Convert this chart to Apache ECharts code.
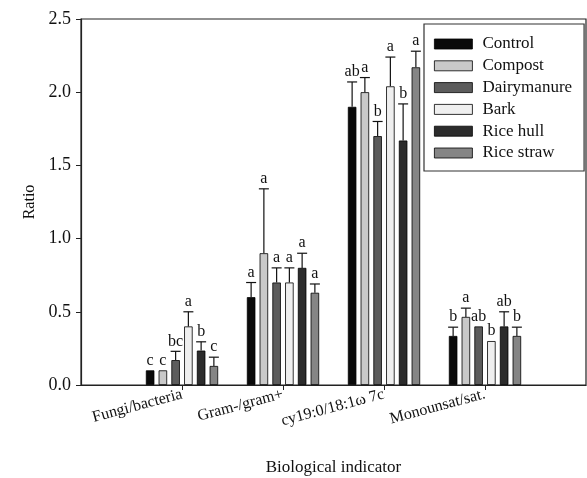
<!DOCTYPE html>
<html>
<head>
<meta charset="utf-8">
<script src="https://cdn.jsdelivr.net/npm/echarts@6/dist/echarts.min.js"></script>
<style>html,body{margin:0;padding:0;background:#fff}#c{width:587px;height:478px}</style>
</head>
<body>
<div id="c"></div>
<script>
// ---- data ----
const categories = ['Fungi/bacteria', 'Gram-/gram+', 'cy19:0/18:1\u03c9 7c', 'Monounsat/sat.'];
const treatments = ['Control', 'Compost', 'Dairymanure', 'Bark', 'Rice hull', 'Rice straw'];
const yTicks = [0, 0.5, 1.0, 1.5, 2.0, 2.5];

const controlVals    = [0.10, 0.60, 1.90, 0.335];
const compostVals    = [0.10, 0.90, 2.00, 0.465];
const dairyVals      = [0.17, 0.70, 1.70, 0.40];
const barkVals       = [0.40, 0.70, 2.04, 0.30];
const riceHullVals   = [0.235, 0.80, 1.67, 0.40];
const riceStrawVals  = [0.13, 0.63, 2.17, 0.335];

const controlErr     = [0.00, 0.10, 0.17, 0.06];
const compostErr     = [0.00, 0.44, 0.10, 0.06];
const dairyErr       = [0.06, 0.10, 0.10, 0.00];
const barkErr        = [0.10, 0.10, 0.20, 0.00];
const riceHullErr    = [0.06, 0.10, 0.25, 0.10];
const riceStrawErr   = [0.06, 0.06, 0.11, 0.06];

const controlLet     = ['c', 'a', 'ab', 'b'];
const compostLet     = ['c', 'a', 'a', 'a'];
const dairyLet       = ['bc', 'a', 'b', 'ab'];
const barkLet        = ['a', 'a', 'a', 'b'];
const riceHullLet    = ['b', 'a', 'b', 'ab'];
const riceStrawLet   = ['c', 'a', 'a', 'b'];

const allVals = [controlVals, compostVals, dairyVals, barkVals, riceHullVals, riceStrawVals];
const allErr = [controlErr, compostErr, dairyErr, barkErr, riceHullErr, riceStrawErr];
const allLet = [controlLet, compostLet, dairyLet, barkLet, riceHullLet, riceStrawLet];
const colors = ['#0a0a0a', '#c9c9c9', '#5c5c5c', '#efefef', '#2c2c2c', '#858585'];

// ---- build ----
const FONT = '"Liberation Serif", "Times New Roman", serif';
const xData = [''].concat(categories, ['']);
const BAR_W = 8.5, GAP = 0.5;
const pitch = BAR_W * (1 + GAP);

const barSeries = treatments.map((name, i) => ({
  name: name,
  type: 'bar',
  barWidth: BAR_W,
  barGap: (GAP * 100) + '%',
  data: [null].concat(allVals[i], [null]),
  itemStyle: { color: colors[i], borderColor: '#000', borderWidth: 0.8 },
  z: 2
}));

const errData = [];
treatments.forEach((t, s) => {
  categories.forEach((c, k) => {
    errData.push([k + 1, s, allVals[s][k], allErr[s][k], allLet[s][k]]);
  });
});

const errSeries = {
  type: 'custom',
  name: 'err',
  data: errData,
  encode: { x: 0, y: 2 },
  z: 5,
  silent: true,
  renderItem: function (params, api) {
    const cat = api.value(0), s = api.value(1), v = api.value(2), e = api.value(3);
    const letter = errData[params.dataIndex][4];
    const base = api.coord([cat, v]);
    const x = base[0] + (s - 2.5) * pitch;
    const yBar = base[1];
    const yTop = api.coord([cat, v + e])[1];
    const children = [];
    if (e > 0) {
      children.push({ type: 'line', shape: { x1: x, y1: yBar, x2: x, y2: yTop }, style: { stroke: '#111', lineWidth: 1.2 } });
      children.push({ type: 'line', shape: { x1: x - 5, y1: yTop, x2: x + 5, y2: yTop }, style: { stroke: '#111', lineWidth: 1.2 } });
    }
    children.push({
      type: 'text',
      style: {
        x: x, y: (e > 0 ? yTop : yBar) - 2,
        text: letter, align: 'center', verticalAlign: 'bottom',
        fill: '#111', font: '16px ' + FONT
      }
    });
    return { type: 'group', children: children };
  }
};

const chart = echarts.init(document.getElementById('c'), null, { renderer: 'canvas' });
chart.setOption({
  animation: false,
  backgroundColor: '#fff',
  textStyle: { fontFamily: FONT },
  grid: { left: 81, right: 1, top: 19, bottom: 93, show: true, borderColor: '#222', borderWidth: 1.2, containLabel: false, outerBoundsMode: 'none' },
  legend: {
    data: treatments,
    orient: 'vertical',
    left: 424, top: 24,
    padding: [11, 12, 9, 10],
    itemWidth: 38, itemHeight: 10, itemGap: 3.8,
    borderColor: '#333', borderWidth: 1.2,
    icon: 'rect',
    itemStyle: { borderColor: '#000', borderWidth: 0.8 },
    textStyle: { fontSize: 17, color: '#111', fontFamily: FONT, lineHeight: 18, padding: [0, 0, 0, 5] }
  },
  xAxis: {
    type: 'category',
    data: xData,
    boundaryGap: false,
    name: 'Biological indicator',
    nameLocation: 'middle',
    nameGap: 74,
    nameTextStyle: { fontSize: 17, color: '#111', fontFamily: FONT },
    axisLine: { lineStyle: { color: '#222', width: 1.2 } },
    axisTick: { length: 5, lineStyle: { color: '#222' }, interval: (i) => i > 0 && i < xData.length - 1 },
    axisLabel: { interval: (i) => i > 0 && i < xData.length - 1, rotate: 15, margin: 9, fontSize: 16, color: '#111', fontFamily: FONT },
    splitLine: { show: false }
  },
  yAxis: {
    type: 'value',
    min: yTicks[0], max: yTicks[yTicks.length - 1], interval: 0.5,
    name: 'Ratio',
    nameLocation: 'middle',
    nameGap: 37,
    nameTextStyle: { fontSize: 16, color: '#111', fontFamily: FONT },
    axisLine: { show: true, lineStyle: { color: '#222', width: 1.2 } },
    axisTick: { show: true, length: 5, lineStyle: { color: '#222' } },
    axisLabel: { formatter: (v) => v.toFixed(1), fontSize: 18, color: '#111', margin: 10, fontFamily: FONT },
    splitLine: { show: false }
  },
  series: barSeries.concat([errSeries])
});
</script>
</body>
</html>
